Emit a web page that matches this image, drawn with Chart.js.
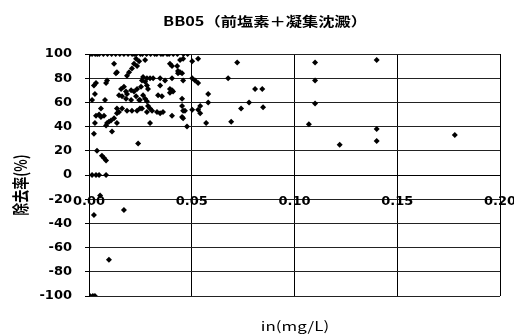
<!DOCTYPE html>
<html>
<head>
<meta charset="utf-8">
<script src="https://cdn.jsdelivr.net/npm/chart.js@4.4.1/dist/chart.umd.min.js"></script>
<style>
  html, body { margin: 0; padding: 0; background: #fff; }
  canvas { display: block; }
</style>
</head>
<body>
<canvas id="c" width="514" height="335"></canvas>
<script>
const titleText = "BB05（前塩素＋凝集沈澱）";
const xAxisTitle = "in(mg/L)";
const yAxisTitle = "除去率(%)";
const xTickValues = [0, 0.05, 0.10, 0.15, 0.20];
const yTickValues = [-100, -80, -60, -40, -20, 0, 20, 40, 60, 80, 100];

const concentration = [
  0.000, 0.0005, 0.0015, 0.003, 0.004, 0.005, 0.007, 0.009, 0.011, 0.013,
  0.015, 0.017, 0.019, 0.021, 0.022, 0.023, 0.025, 0.026, 0.028, 0.030,
  0.032, 0.033, 0.035, 0.036, 0.038, 0.039, 0.041, 0.043, 0.046, 0.048,
  0.0122, 0.0229, 0.0244, 0.0234, 0.0219, 0.0209, 0.0195, 0.0136, 0.0131, 0.0185,
  0.0088, 0.0083, 0.0034, 0.0024, 0.0156, 0.0170, 0.0180, 0.0185, 0.0205, 0.0219,
  0.0234, 0.0253, 0.0146, 0.0161, 0.0180, 0.0205, 0.0229, 0.0244, 0.0015, 0.0058,
  0.0136, 0.0161, 0.0185, 0.0209, 0.0234, 0.0258, 0.0273, 0.0443, 0.0458, 0.0502,
  0.0404, 0.0429, 0.0433, 0.0443, 0.0453, 0.0433, 0.0394, 0.0263, 0.0282, 0.0273,
  0.0258, 0.0297, 0.0312, 0.0346, 0.0370, 0.0404, 0.0458, 0.0502, 0.0282, 0.0287,
  0.0346, 0.0394, 0.0404, 0.0409, 0.0394, 0.0263, 0.0273, 0.0248, 0.0282, 0.0287,
  0.0336, 0.0355, 0.0453, 0.0297, 0.0307, 0.0453, 0.0458, 0.0248, 0.0034, 0.0049,
  0.0058, 0.0073, 0.0097, 0.0088, 0.0083, 0.0107, 0.0122, 0.0136, 0.0146, 0.0136,
  0.0112, 0.0024, 0.0239, 0.0039, 0.0063, 0.0073, 0.0083, 0.0015, 0.0034, 0.0049,
  0.0083, 0.0282, 0.0331, 0.0346, 0.0360, 0.0404, 0.0453, 0.0467, 0.0502, 0.0531,
  0.0458, 0.0477, 0.0297, 0.0531, 0.0721, 0.0516, 0.0531, 0.0677, 0.0580, 0.0580,
  0.0541, 0.0541, 0.0570, 0.0692, 0.0740, 0.0779, 0.0808, 0.0843, 0.0847, 0.110,
  0.140, 0.110, 0.110, 0.107, 0.140, 0.140, 0.122, 0.178, 0.0054, 0.0024,
  0.0170, 0.0097, 0.0005, 0.0019, 0.0029, 0.0029, 0.0078, 0.0029
];

const removalRate = [
  100, 100, 100, 100, 100, 100, 100, 100, 100, 100,
  100, 100, 100, 100, 100, 100, 100, 100, 100, 100,
  100, 100, 100, 100, 100, 100, 100, 100, 100, 100,
  92, 96, 94, 90, 92, 88, 85, 85, 84, 82,
  78, 76, 76, 74, 71, 73, 69, 67, 70, 69,
  71, 73, 66, 65, 63, 62, 65, 62, 62, 55,
  55, 55, 53, 53, 53, 55, 95, 95, 96, 94,
  90, 90, 86, 85, 84, 84, 92, 81, 80, 77,
  78, 80, 80, 80, 78, 80, 78, 80, 74, 71,
  74, 71, 70, 69, 68, 66, 63, 62, 61, 57,
  66, 65, 63, 55, 53, 57, 53, 55, 49, 50,
  48, 49, 44, 43, 41, 45, 47, 51, 52, 43,
  36, 34, 26, 20, 16, 14, 12, 0, 0, 0,
  0, 52, 52, 51, 52, 49, 48, 53, 54, 54,
  47, 40, 43, 96, 93, 78, 76, 80, 67, 60,
  57, 51, 43, 44, 55, 60, 71, 71, 56, 93,
  95, 78, 59, 42, 38, 28, 25, 33, -17, -33,
  -29, -70, -100, -100, -100, 67, 62, 43
];

const points = concentration.map((x, i) => ({ x: x, y: removalRate[i] }));

const textPlugin = {
  id: 'extraTexts',
  afterDraw(chart) {
    const ctx = chart.ctx;
    ctx.save();
    ctx.fillStyle = '#000';
    ctx.textAlign = 'center';
    ctx.textBaseline = 'middle';

    ctx.save();
    ctx.translate(265, 21);
    ctx.scale(1.25, 1);
    ctx.font = 'bold 13px "Noto Sans CJK JP"';
    ctx.fillText(titleText, 0, 0);
    ctx.restore();

    ctx.save();
    ctx.translate(295, 326);
    ctx.scale(1.3, 1);
    ctx.font = '13px "Noto Sans CJK JP"';
    ctx.fillText(xAxisTitle, 0, 0);
    ctx.restore();

    ctx.save();
    ctx.translate(21, 185);
    ctx.rotate(-Math.PI / 2);
    ctx.scale(1, 1.3);
    ctx.font = 'bold 13px "Noto Sans CJK JP"';
    ctx.fillText(yAxisTitle, 0, 0);
    ctx.restore();

    ctx.restore();
  }
};

new Chart(document.getElementById('c'), {
  type: 'scatter',
  data: {
    datasets: [{
      data: points,
      pointStyle: 'rectRot',
      pointRadius: 3,
      pointBackgroundColor: '#000',
      pointBorderColor: '#000',
      pointBorderWidth: 0
    }]
  },
  options: {
    responsive: false,
    animation: false,
    layout: { padding: { top: 54, bottom: 39, left: 0, right: 14 } },
    plugins: {
      legend: { display: false },
      tooltip: { enabled: false },
      title: { display: false }
    },
    scales: {
      x: {
        type: 'linear',
        position: { y: 0 },
        min: xTickValues[0],
        max: xTickValues[xTickValues.length - 1],
        afterBuildTicks: (s) => { s.ticks = xTickValues.map(v => ({ value: v })); },
        afterFit: (s) => { s.paddingLeft = 0; s.paddingRight = 0; },
        ticks: {
          color: '#000',
          padding: 15,
          maxRotation: 0,
          font: { family: 'DejaVu Sans', weight: 'bold', size: 13 },
          callback: (v) => Number(v).toFixed(2)
        },
        grid: { color: '#000', lineWidth: 1, tickLength: 4, tickColor: '#000' },
        border: { color: '#000', width: 1 }
      },
      y: {
        type: 'linear',
        position: 'left',
        min: yTickValues[0],
        max: yTickValues[yTickValues.length - 1],
        afterBuildTicks: (s) => { s.ticks = yTickValues.map(v => ({ value: v })); },
        afterFit: (s) => { s.width = 89; },
        ticks: {
          color: '#000',
          padding: 13,
          font: { family: 'DejaVu Sans', weight: 'bold', size: 13 }
        },
        grid: { color: '#222', lineWidth: 1, tickLength: 4, tickColor: '#000' },
        border: { color: '#000', width: 1 }
      }
    }
  },
  plugins: [textPlugin]
});
</script>
</body>
</html>
